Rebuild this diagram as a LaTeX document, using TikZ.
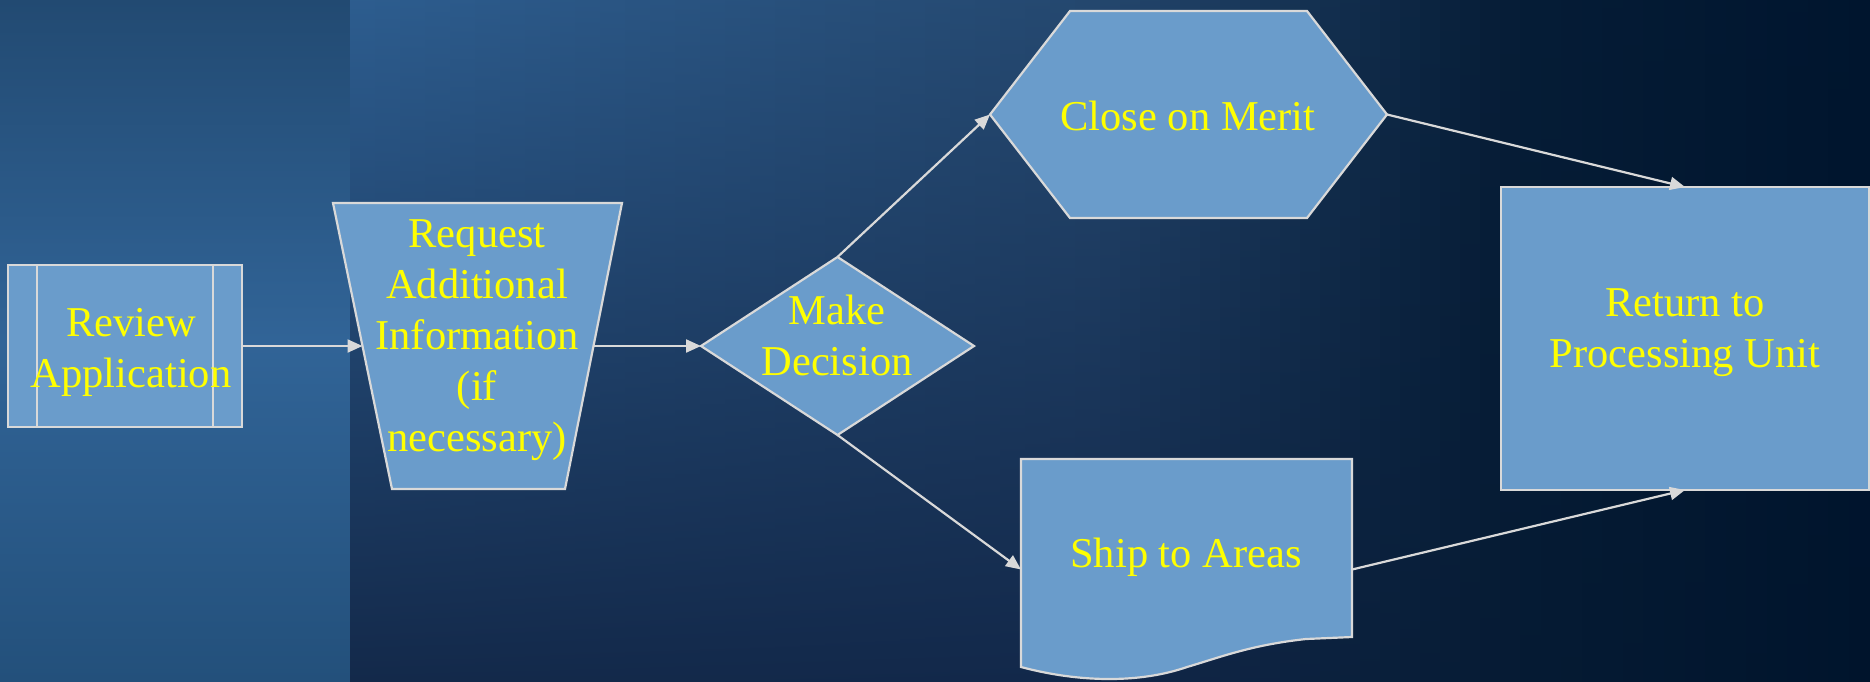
\documentclass[tikz,border=0pt]{standalone}
\usepackage{fontspec}
\setmainfont{Liberation Serif}
\usetikzlibrary{arrows.meta,calc}
\definecolor{nodefill}{HTML}{6A9CCB}
\definecolor{edgegray}{HTML}{D9D9D9}
\definecolor{txtyellow}{HTML}{FFFF00}
\definecolor{lsTop}{HTML}{224A72}
\definecolor{lsMid}{HTML}{316497}
\definecolor{lsBot}{HTML}{23507B}
\definecolor{tA}{HTML}{2D5D8F}
\definecolor{tB}{HTML}{24476E}
\definecolor{tC}{HTML}{061D37}
\definecolor{tD}{HTML}{00152E}
\definecolor{bA}{HTML}{13294A}
\definecolor{bB}{HTML}{12284A}
\definecolor{bC}{HTML}{061B34}
\definecolor{bD}{HTML}{00142C}
% x0, x1, n, topA, topB, botA, botB
\newcommand{\bgseg}[7]{%
  \foreach \i in {1,...,#3}{%
    \pgfmathsetmacro{\sw}{(#2-#1)/#3}%
    \pgfmathsetmacro{\xa}{#1+\sw*(\i-1)}%
    \pgfmathsetmacro{\xb}{#1+\sw*\i+0.8}%
    \pgfmathtruncatemacro{\q}{100-100*(\i-0.5)/#3}%
    \shade[top color=#4!\q!#5, bottom color=#6!\q!#7] (\xa,0) rectangle (\xb,681);
  }}
\begin{document}
\begin{tikzpicture}[x=1pt,y=-1pt,
  shapebox/.style={rectangle,draw=none,fill=none,inner sep=0pt,outer sep=0pt},
  outline/.style={draw=edgegray,fill=nodefill,line width=2.2pt,line join=miter},
  edgeline/.style={draw=edgegray,line width=2.2pt},
  lbl/.style={text=txtyellow,font=\fontsize{42.5}{51}\selectfont,align=center,inner sep=0pt},
  conn/.style={draw=edgegray,line width=2.2pt,-{Triangle[length=15pt,width=13pt]}}]
\useasboundingbox (0,0) rectangle (1870,681);
% background
\shade[top color=lsTop, bottom color=lsBot, middle color=lsMid] (0,0) rectangle (350,681);
\bgseg{350}{1100}{30}{tA}{tB}{bA}{bB}
\bgseg{1100}{1500}{20}{tB}{tC}{bB}{bC}
\bgseg{1500}{1870}{18}{tC}{tD}{bC}{bD}
% shape nodes
\node[shapebox,minimum width=234pt,minimum height=162pt] (rev) at (125,346) {};
\node[shapebox,minimum width=231pt,minimum height=286pt] (req) at (478,346) {};
\node[shapebox,minimum width=273pt,minimum height=178pt] (dec) at (837.5,346) {};
\node[shapebox,minimum width=397pt,minimum height=207pt] (hex) at (1188.5,114.5) {};
\node[shapebox,minimum width=331pt,minimum height=221pt] (ship) at (1186.5,569.5) {};
\node[shapebox,minimum width=368pt,minimum height=303pt] (ret) at (1685,338.5) {};
% outlines
\draw[outline] (rev.north west) rectangle (rev.south east);
\draw[edgeline] ([xshift=29pt]rev.north west) -- ([xshift=29pt]rev.south west);
\draw[edgeline] ([xshift=-29pt]rev.north east) -- ([xshift=-29pt]rev.south east);
\draw[outline] ([xshift=-29.5pt]req.north west) -- ([xshift=28.5pt]req.north east)
  -- ([xshift=-28.5pt]req.south east) -- ([xshift=29.5pt]req.south west) -- cycle;
\draw[outline] (dec.north) -- (dec.east) -- (dec.south) -- (dec.west) -- cycle;
\draw[outline] (hex.west) -- ([xshift=80pt]hex.north west) -- ([xshift=-80pt]hex.north east)
  -- (hex.east) -- ([xshift=-80pt]hex.south east) -- ([xshift=80pt]hex.south west) -- cycle;
\draw[outline, shift={(ship.north west)}] (0,0) -- (331,0) -- (331,178) -- (285,180)
  .. controls (230,186) and (200,198) .. (166,208)
  .. controls (120,224) and (60,224) .. (0,208) -- cycle;
\draw[outline] (ret.north west) rectangle (ret.south east);
% connectors
\draw[conn] (rev.east) -- (req.west);
\draw[conn] (req.east) -- (dec.west);
\draw[conn] (dec.north) -- (hex.west);
\draw[conn] (dec.south) -- (ship.west);
\draw[conn] (hex.east) -- (ret.north);
\draw[conn] (ship.east) -- (ret.south);
% texts
\node[lbl] (revT) at (131,352) {Review\\Application};
\node[lbl] (reqT) at (477,340) {Request\\Additional\\Information\\(if\\necessary)};
\node[lbl] (decT) at (837,335) {Make\\Decision};
\node[lbl] (hexT) at (1188,115.5) {Close on Merit};
\node[lbl] (shipT) at (1186,557) {Ship to Areas};
\node[lbl] (retT) at (1685,332.5) {Return to\\Processing Unit};
\end{tikzpicture}
\end{document}
